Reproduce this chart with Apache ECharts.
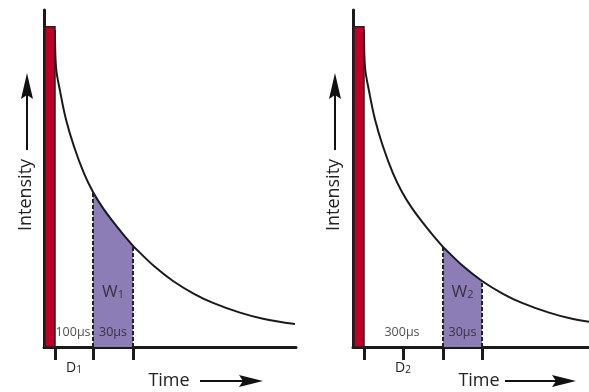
<!DOCTYPE html>
<html><head><meta charset="utf-8">
<script src="https://cdn.jsdelivr.net/npm/echarts@6/dist/echarts.min.js"></script>
<style>html,body{margin:0;padding:0;background:#fff}#c{width:589px;height:392px}</style>
</head><body><div id="c"></div>
<script>
// decay curve readings (time units, relative intensity 0-100)
const curveT = [11, 12, 16, 22, 30, 40, 49, 59, 69, 79, 89, 90, 110, 129, 150, 169, 196, 219, 251];
const curveI = [94, 83, 76, 67.5, 59.5, 51.5, 46, 41.2, 37.2, 33.5, 30.0, 29.7, 24.0, 19.6, 15.8, 13.1, 10.2, 8.4, 6.8];
// excitation pulse
const pulseEnd = 11, pulseTop = 95;
// gate windows [start, end]
const windows = [[49, 89], [90, 129]];
const winNames = ['1', '2'];
// tick positions below each axis
const ticks = [[11, 49, 89], [11, 50, 90, 129]];
// delay label text and its position
const delayText = ['100µs', '300µs'];
const delayMid = [29, 49];
const delayTick = [30, 50];
const widthText = '30µs';
const xMax = [252, 236];

const curve = curveT.map((t, i) => [t, curveI[i]]);
const chart = echarts.init(document.getElementById('c'));
const grids = [{left: 44, top: 10, width: 252, height: 337}, {left: 353, top: 10, width: 236, height: 337}];
const series = [];
const xAxes = [], yAxes = [];
const SM = 0.35;
[0, 1].forEach(g => {
  xAxes.push({
    gridIndex: g, type: 'value', min: 0, max: xMax[g],
    axisLine: {lineStyle: {color: '#1a1a1a', width: 3}},
    splitLine: {show: false},
    axisTick: {show: true, customValues: ticks[g], length: 13, inside: false, lineStyle: {color: '#1a1a1a', width: 3}},
    axisLabel: {show: true, customValues: [delayTick[g]], margin: 14,
      formatter: () => 'D{s|' + winNames[g] + '}',
      color: '#222', fontFamily: 'Open Sans', fontSize: 14,
      rich: {s: {fontSize: 10, color: '#222', fontFamily: 'Open Sans', verticalAlign: 'bottom', padding: [4, 0, 0, 0]}}}
  });
  yAxes.push({
    gridIndex: g, type: 'value', min: 0, max: 100,
    axisLine: {show: true, lineStyle: {color: '#1a1a1a', width: 3}},
    splitLine: {show: false}, axisTick: {show: false}, axisLabel: {show: false}
  });
  const [a, b] = windows[g];
  const seg = curve.filter(p => p[0] >= a && p[0] <= b);
  series.push({
    type: 'line', xAxisIndex: g, yAxisIndex: g, data: seg, symbol: 'none', smooth: SM,
    lineStyle: {width: 0}, areaStyle: {color: '#8c7db6', opacity: 1}, z: 2
  });
  series.push({
    type: 'custom', xAxisIndex: g, yAxisIndex: g, data: [[0, 0]], z: 5,
    renderItem: (params, api) => {
      const p1 = api.coord([0, pulseTop]);
      const p2 = api.coord([pulseEnd, 0]);
      return {type: 'rect', shape: {x: p1[0] + 1, y: p1[1], width: p2[0] - p1[0] - 1, height: p2[1] - p1[1]},
        style: {fill: '#bf0026', stroke: '#222', lineWidth: 1.5}};
    }
  });
  [a, b].forEach(x => {
    const v = curveI[curveT.indexOf(x)];
    series.push({
      type: 'line', xAxisIndex: g, yAxisIndex: g, data: [[x, 0], [x, v]], symbol: 'none', z: 3,
      lineStyle: {color: '#222', width: 2, type: [4, 2]}
    });
  });
  series.push({
    type: 'line', xAxisIndex: g, yAxisIndex: g, data: curve, symbol: 'none', smooth: SM,
    lineStyle: {color: '#1a1a1a', width: 2}, z: 4
  });
  const lbl = (x, y, text, size) => ({value: [x, y], label: {show: true, position: 'inside', formatter: text, fontSize: size}});
  series.push({
    type: 'scatter', xAxisIndex: g, yAxisIndex: g, symbolSize: 1, itemStyle: {color: 'rgba(0,0,0,0)'}, z: 6,
    label: {show: true, position: 'inside', color: '#222', fontFamily: 'Open Sans',
      rich: {s: {fontSize: 11, color: '#222', fontFamily: 'Open Sans', verticalAlign: 'bottom', padding: [6, 0, 0, 0]}}},
    data: [
      lbl(delayMid[g], 4.2, delayText[g], 12.5),
      lbl((a + b) / 2, 4.2, widthText, 12.5),
      lbl((a + b) / 2, 16.3, 'W{s|' + winNames[g] + '}', 17)
    ]
  });
});

function arrowH(x1, x2, y) {
  return [
    {type: 'line', shape: {x1: x1, y1: y, x2: x2 - 18, y2: y}, style: {stroke: '#111', lineWidth: 2}},
    {type: 'polygon', shape: {points: [[x2 - 24, y - 6], [x2, y], [x2 - 24, y + 6], [x2 - 20, y]]}, style: {fill: '#111'}}
  ];
}
function arrowV(x, y1, y2) {
  return [
    {type: 'line', shape: {x1: x, y1: y1, x2: x, y2: y2 + 18}, style: {stroke: '#111', lineWidth: 2}},
    {type: 'polygon', shape: {points: [[x - 6, y2 + 26], [x, y2], [x + 6, y2 + 26], [x, y2 + 22]]}, style: {fill: '#111'}}
  ];
}
const graphic = [];
[[169, 200, 263, 26], [479, 505, 576, 334]].forEach(([tx, ax1, ax2, ix]) => {
  graphic.push({type: 'text', x: tx, y: 381, style: {text: 'Time', fill: '#222', font: '18px "Open Sans"', textAlign: 'center', textVerticalAlign: 'middle'}});
  graphic.push(...arrowH(ax1, ax2, 381));
  graphic.push({type: 'text', x: ix, y: 195, rotation: Math.PI / 2, style: {text: 'Intensity', fill: '#222', font: '18px "Open Sans"', textAlign: 'center', textVerticalAlign: 'middle'}});
  graphic.push(...arrowV(ix + 1, 150, 73));
});

chart.setOption({
  animation: false,
  grid: grids,
  xAxis: xAxes,
  yAxis: yAxes,
  series: series,
  graphic: graphic
});
</script></body></html>
